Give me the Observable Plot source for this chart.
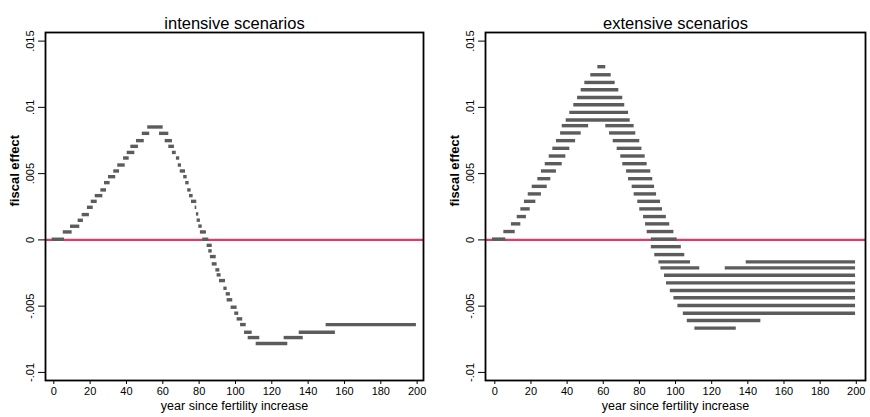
<!DOCTYPE html>
<html>
<head>
<meta charset="utf-8">
<script src="https://cdn.jsdelivr.net/npm/d3@7"></script>
<script src="https://cdn.jsdelivr.net/npm/@observablehq/plot@0.6"></script>
<style>
  body { margin: 0; background: #fff; }
  #wrap { position: relative; width: 870px; height: 417px; overflow: hidden; }
  .panel { position: absolute; top: 0; }
</style>
</head>
<body>
<div id="wrap">
  <div class="panel" id="left" style="left:0px"></div>
  <div class="panel" id="right" style="left:435px"></div>
</div>
<script>
// ---- tick values and labels ----
const xTicks = [0, 20, 40, 60, 80, 100, 120, 140, 160, 180, 200];
const yTicks = [-0.01, -0.005, 0, 0.005, 0.01, 0.015];
const yTickLabels = ["-.01", "-.005", "0", ".005", ".01", ".015"];
const panelTitles = ["intensive scenarios", "extensive scenarios"];
const xTitle = "year since fertility increase";
const yTitle = "fiscal effect";

// ---- intensive scenarios: horizontal segments (fiscal effect, year from, year to) ----
const intensiveY = [
  0.00005, 0.0006, 0.00103, 0.00148, 0.00191, 0.00246, 0.00291, 0.00334, 0.00377, 0.00432,
  0.00477, 0.0052, 0.00565, 0.00618, 0.0066, 0.00706, 0.00749, 0.00804, 0.00852, 0.00804,
  0.00749, 0.00706, 0.0066, 0.00618, 0.00565, 0.0052, 0.00477, 0.00432, 0.00377, 0.00334,
  0.00291, 0.00246, 0.00196, 0.00149, 0.00104, 0.0006, 0.00005, -0.00041, -0.00083, -0.00126,
  -0.00181, -0.00226, -0.00264, -0.00307, -0.00365, -0.00407, -0.00452, -0.00508, -0.00553, -0.00596,
  -0.00639, -0.00697, -0.00737, -0.00782, -0.00737, -0.00697, -0.00639
];
const intensiveX1 = [
  -0.9, 5.2, 9.2, 13.4, 15.6, 18.5, 20.6, 22.8, 25.9, 27.9,
  30.1, 33.0, 35.2, 38.4, 40.4, 42.4, 45.5, 48.7, 51.7, 58.2,
  61.3, 63.3, 65.3, 67.5, 68.5, 69.6, 71.5, 72.6, 73.7, 74.7,
  75.8, 77.8, 78.5, 78.9, 79.8, 80.7, 82.0, 84.4, 85.3, 86.2,
  87.2, 89.2, 89.9, 91.2, 93.6, 94.9, 95.4, 97.6, 99.6, 100.9,
  102.8, 105.0, 107.0, 111.4, 126.8, 135.1, 149.9
];
const intensiveX2 = [
  5.9, 10.1, 14.3, 16.3, 19.6, 21.7, 23.9, 27.0, 29.0, 31.0,
  34.1, 36.2, 39.3, 41.5, 44.6, 46.6, 49.8, 52.8, 60.2, 63.3,
  65.3, 66.4, 67.4, 69.3, 70.3, 72.5, 73.4, 74.5, 75.6, 76.7,
  78.7, 78.7, 79.8, 80.7, 81.7, 84.0, 85.3, 87.2, 87.2, 89.4,
  89.9, 91.4, 92.1, 94.5, 95.4, 97.2, 98.5, 100.9, 101.8, 104.0,
  105.9, 109.2, 113.4, 128.8, 137.3, 155.0, 199.6
];

// ---- extensive scenarios ----
const extensiveY = [
  0.01307, 0.01246, 0.01188, 0.01133, 0.01075, 0.0102, 0.00962, 0.00905,
  0.00862, 0.00862, 0.00807, 0.00807, 0.00749, 0.00749, 0.00691, 0.00691,
  0.00633, 0.00633, 0.00575, 0.00575, 0.0052, 0.0052, 0.00462, 0.00462,
  0.00404, 0.00404, 0.00347, 0.00347, 0.00291, 0.00291, 0.00234, 0.00234,
  0.00176, 0.00176, 0.00121, 0.00121, 0.00063, 0.00063, 0.00006, 0.00006,
  -0.00051, -0.00111, -0.00166, -0.00166, -0.00211, -0.00211,
  -0.00267, -0.00324, -0.00382, -0.00437, -0.00495, -0.00553, -0.00608, -0.00666
];
const extensiveX1 = [
  57.0, 53.1, 49.8, 47.8, 45.8, 43.7, 41.5, 39.5,
  37.3, 61.4, 36.4, 63.5, 34.1, 65.5, 32.1, 67.7,
  30.1, 69.7, 27.9, 70.8, 25.8, 72.9, 23.8, 74.0,
  20.7, 76.0, 18.5, 77.1, 16.4, 79.1, 14.4, 80.2,
  12.4, 82.3, 9.2, 83.4, 5.0, 84.3, -1.3, 86.6,
  86.6, 88.5, 90.8, 139.1, 91.9, 127.5,
  93.9, 95.0, 97.1, 99.1, 101.3, 104.3, 106.5, 110.7
];
const extensiveX2 = [
  61.4, 64.4, 66.6, 68.6, 70.8, 71.9, 74.0, 74.9,
  51.9, 77.1, 47.8, 78.0, 44.7, 80.2, 41.5, 81.4,
  39.3, 83.2, 37.3, 84.3, 34.1, 86.3, 31.0, 87.4,
  29.0, 88.4, 25.8, 89.5, 22.7, 91.7, 19.6, 92.8,
  17.5, 94.9, 14.4, 96.8, 11.3, 99.1, 6.1, 100.9,
  103.2, 105.1, 108.3, 199.6, 113.4, 199.6,
  199.6, 199.6, 199.6, 199.6, 199.6, 199.6, 147.2, 133.6
];

const toRows = (Y, X1, X2) => Y.map((y, i) => ({y, x1: X1[i], x2: X2[i]}));

const FONT = '"Liberation Sans", Arial, sans-serif';

function panel({rows, title, xDomain, marginLeft, marginRight}) {
  return Plot.plot({
    width: 435,
    height: 417,
    marginLeft,
    marginRight,
    marginTop: 32,
    marginBottom: 37,
    x: {domain: xDomain},
    y: {domain: [-0.01061, 0.01565]},
    style: {fontFamily: FONT, fontSize: "11px", color: "#000", background: "transparent", overflow: "visible"},
    marks: [
      Plot.ruleY([0], {stroke: "#d4406a", strokeWidth: 2.2}),
      Plot.ruleY(rows, {y: "y", x1: "x1", x2: "x2", stroke: "#5c5c5c", strokeWidth: 3.4}),
      Plot.frame({stroke: "#000", strokeWidth: 1.8}),
      Plot.axisX({ticks: xTicks, tickSize: 4, tickPadding: 3, label: null, stroke: "#000"}),
      Plot.axisY({
        ticks: yTicks,
        tickFormat: d => yTickLabels[yTicks.indexOf(d)],
        tickRotate: -90,
        tickSize: 7,
        tickPadding: 4.5,
        label: null
      }),
      Plot.text([title], {frameAnchor: "top", dy: -15, fontSize: 16.5, fill: "#000"}),
      Plot.text([xTitle], {frameAnchor: "bottom", dy: 29, fontSize: 12.5, fill: "#000"}),
      Plot.text([yTitle], {frameAnchor: "left", rotate: -90, dx: -31, fontSize: 13, fontWeight: "bold", fill: "#000"})
    ]
  });
}

document.getElementById("left").append(panel({
  rows: toRows(intensiveY, intensiveX1, intensiveX2),
  title: panelTitles[0],
  xDomain: [-4.57, 203.5],
  marginLeft: 45,
  marginRight: 12
}));

document.getElementById("right").append(panel({
  rows: toRows(extensiveY, extensiveX1, extensiveX2),
  title: panelTitles[1],
  xDomain: [-5.15, 205.1],
  marginLeft: 50,
  marginRight: 5
}));
</script>
</body>
</html>
